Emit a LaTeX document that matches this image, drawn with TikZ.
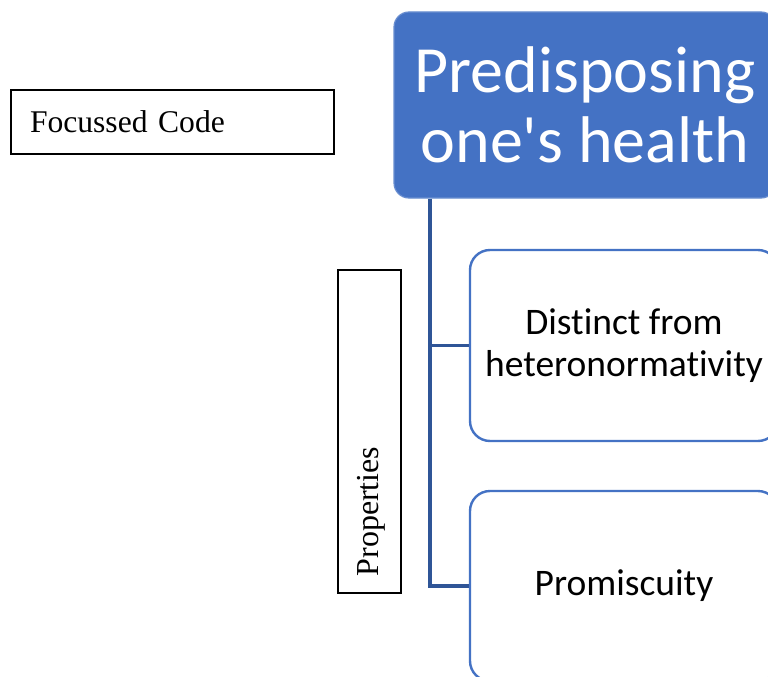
\documentclass[tikz,border=0pt]{standalone}
\usepackage{fontspec}
\setmainfont{Liberation Serif}
\newfontfamily\carlitofont[Ligatures=CommonOff]{Carlito}
\definecolor{accent}{HTML}{4472C4}
\definecolor{linkblue}{HTML}{2F5597}
\begin{document}
\begin{tikzpicture}[x=1pt,y=-1pt,
  codebox/.style={draw=black,line width=1.1pt,fill=white,inner sep=0pt},
  topbox/.style={fill=accent,draw=accent!80!white,line width=1.2pt,rounded corners=15pt,
    text=white,font=\carlitofont\fontsize{66}{70}\selectfont,align=center,inner sep=0pt},
  childbox/.style={draw=accent,line width=2.4pt,fill=white,rounded corners=20pt,
    font=\carlitofont\fontsize{37.5}{42}\selectfont,align=center,inner sep=0pt},
  conn/.style={draw=linkblue,line width=3.2pt}]
\clip (0,0) rectangle (768,677);
\fill[white] (0,0) rectangle (768,677);
\node[codebox,minimum width=323pt,minimum height=64pt,text width=285pt,align=left,
  font=\fontsize{31.6}{36}\selectfont] (code) at (172.5,122) {Focussed Code};
\node[topbox,minimum width=382pt,minimum height=186pt] (top) at (585,105)
  {Predisposing\\one's health};
\node[childbox,minimum width=308pt,minimum height=191pt] (b1) at (624,345.5)
  {Distinct from\\heteronormativity};
\node[childbox,minimum width=308pt,minimum height=190pt] (b2) at (624,586)
  {Promiscuity};
\node[codebox,minimum width=63pt,minimum height=323pt] (props) at (369.5,431.5) {};
\node[rotate=90,anchor=west,inner sep=0pt,font=\fontsize{32}{36}\selectfont] (proptext)
  at ([yshift=17pt,xshift=2pt]props.south) {Properties};
\coordinate (trunk) at (430,0);
\draw[conn] (trunk |- top.south) |- (b2.west);
\draw[conn] (trunk |- b1.west) -- (b1.west);
\end{tikzpicture}
\end{document}
